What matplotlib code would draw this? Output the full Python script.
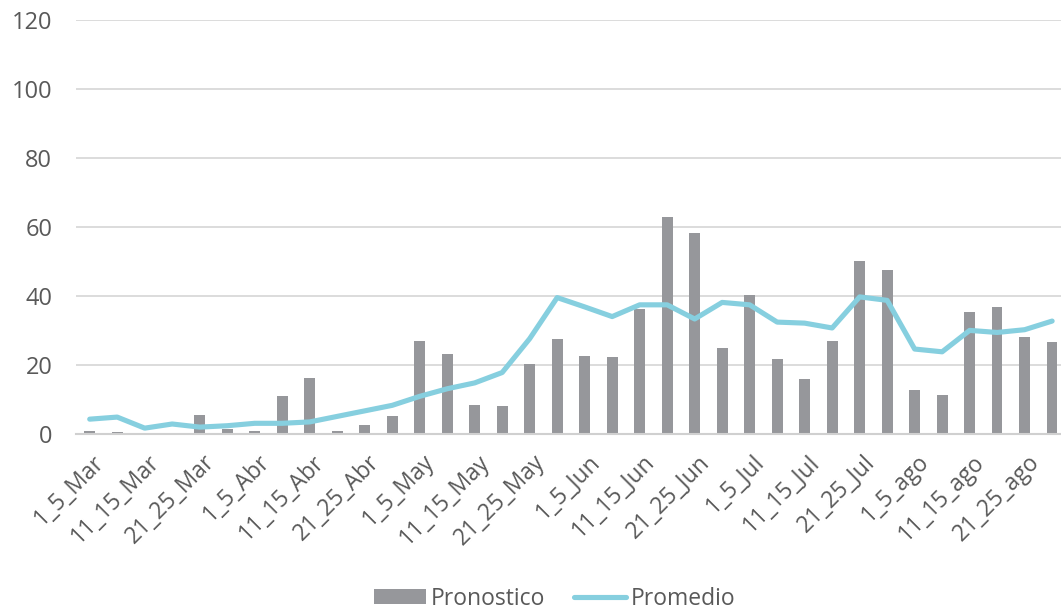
import matplotlib
matplotlib.use("Agg")
import matplotlib.pyplot as plt
import matplotlib.transforms as mtransforms
import numpy as np
from matplotlib.patches import Patch
from matplotlib.lines import Line2D

plt.rcParams['font.family'] = ['Open Sans', 'DejaVu Sans']

months = ["Mar", "Abr", "May", "Jun", "Jul", "ago"]
month_last = {"Mar": 31, "Abr": 30, "May": 31, "Jun": 30, "Jul": 31, "ago": 31}
categories = []
for m in months:
    for s, e in [(1, 5), (6, 10), (11, 15), (16, 20), (21, 25), (26, month_last[m])]:
        categories.append(f"{s}_{e}_{m}")

pronostico = [1.0, 0.6, 0.4, 0.1, 5.4, 1.5, 1.0, 11.1, 16.2, 1.0,
              2.6, 5.1, 26.8, 23.3, 8.5, 8.0, 20.3, 27.5, 22.5, 22.2,
              36.3, 62.9, 58.3, 24.8, 40.2, 21.6, 16.0, 27.0, 50.0, 47.6,
              12.6, 11.3, 35.4, 36.8, 28.1, 26.7]
promedio = [4.3, 4.9, 1.7, 2.9, 2.0, 2.4, 3.1, 3.1, 3.5, 5.1,
            6.7, 8.3, 10.9, 13.1, 14.8, 17.8, 27.6, 39.5, 36.8, 34.0,
            37.4, 37.4, 33.3, 38.1, 37.4, 32.4, 32.1, 30.7, 39.7, 38.7,
            24.6, 23.8, 30.0, 29.4, 30.2, 32.7]
yticks = [0, 20, 40, 60, 80, 100, 120]

bar_color = "#96979b"
line_color = "#86cfdf"
text_color = "#595959"
fs = 16.5

fig = plt.figure(figsize=(10.61, 6.10), dpi=100)
ax = fig.add_axes([0.0716, 0.2885, 0.933, 0.6795])

x = np.arange(len(categories))
ax.bar(x, pronostico, width=0.39, color=bar_color, zorder=2)
ax.plot(x, promedio, color=line_color, lw=3.7, zorder=3, solid_capstyle='round',
        solid_joinstyle='round')

ax.set_xlim(-0.5, len(categories) - 0.5)
ax.set_ylim(0, 120)
ax.set_yticks(yticks)
ax.set_yticklabels([str(v) for v in yticks], fontsize=17, color=text_color)
ax.tick_params(axis='y', length=0, pad=17)
ax.grid(axis='y', color="#d9d9d9", lw=1.3, zorder=0)
ax.set_axisbelow(True)

ax.set_xticks(x)
labels = [c if i % 2 == 0 else "" for i, c in enumerate(categories)]
ax.set_xticklabels(labels, rotation=45, ha='right', va='top', rotation_mode='anchor',
                   fontsize=fs, color=text_color)
ax.tick_params(axis='x', length=0, pad=11.5)
offset = mtransforms.ScaledTranslation(3 / 100, 0, fig.dpi_scale_trans)
for lbl in ax.get_xticklabels():
    lbl.set_transform(lbl.get_transform() + offset)

for sp in ['top', 'right', 'left']:
    ax.spines[sp].set_visible(False)
ax.spines['bottom'].set_color("#d0d0d0")
ax.spines['bottom'].set_linewidth(1.5)

handles = [Patch(facecolor=bar_color, edgecolor='none'),
           Line2D([0], [0], color=line_color, lw=3.7, solid_capstyle='round')]
leg = fig.legend(handles, ["Pronostico", "Promedio"], loc='lower center',
                 bbox_to_anchor=(0.523, -0.035), ncol=2, frameon=False,
                 fontsize=fs, handlelength=2.27, handleheight=0.65,
                 handletextpad=0.2, columnspacing=1.25)
for t in leg.get_texts():
    t.set_color(text_color)

fig.savefig("out.png", dpi=100)
